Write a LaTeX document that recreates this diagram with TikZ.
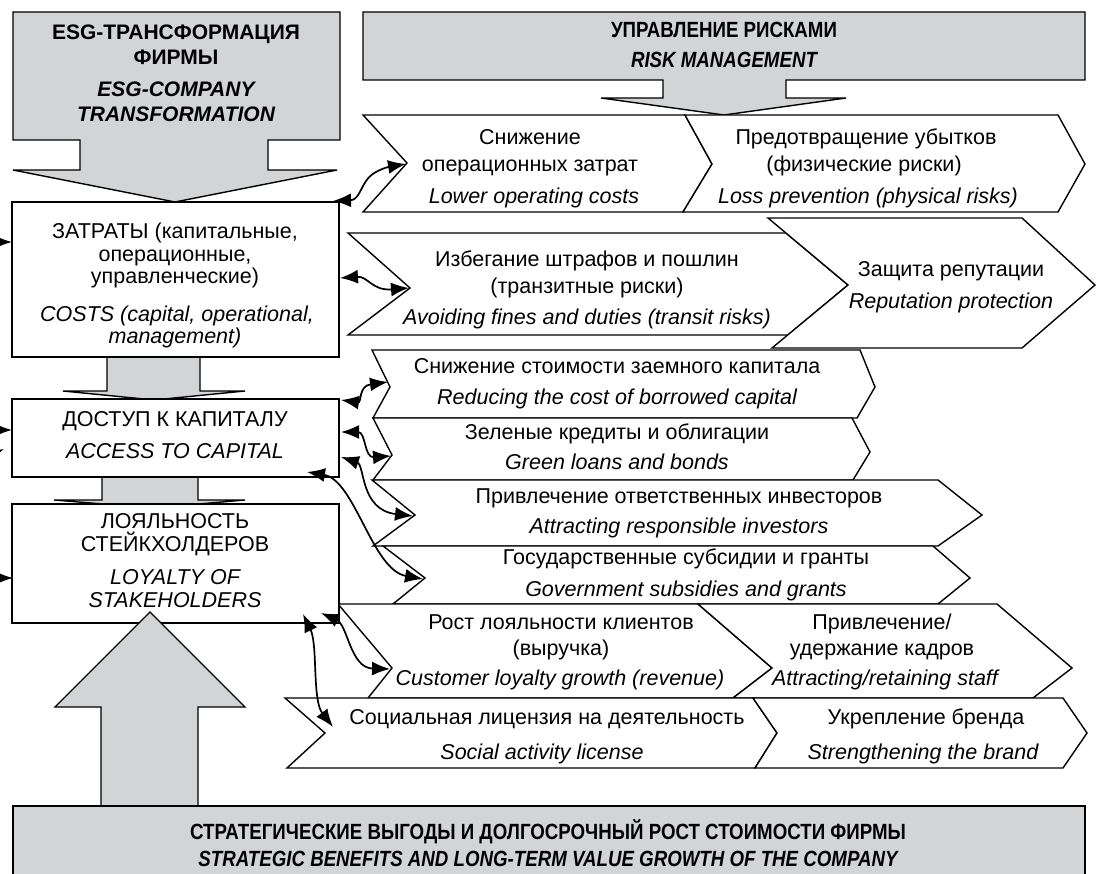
\documentclass[tikz,border=0pt]{standalone}
\usepackage{fontspec}
\setmainfont{Liberation Sans}
\newfontfamily\narrowfont[FakeStretch=0.85]{Liberation Sans}
\usetikzlibrary{arrows.meta}
\definecolor{gfill}{RGB}{211,212,214}
\newcommand\mytxt[4][lbl]{\node[#1] (#2) at (#3) {#4};}
\begin{document}
\begin{tikzpicture}[x=1pt,y=-1pt,
  gshape/.style={fill=gfill, draw=black, line width=1.4pt, line join=miter},
  chev/.style={fill=white, draw=black, line width=1.4pt, line join=miter},
  box/.style={draw=black, fill=white, line width=1.4pt, inner sep=0pt, outer sep=0pt, anchor=north west},
  dbl/.style={{Latex[length=18pt,width=14pt]}-{Latex[length=18pt,width=14pt]}, line width=1.7pt},
  sgl/.style={-{Latex[length=18pt,width=14pt]}, line width=1.7pt},
  lbl/.style={anchor=base, inner sep=0pt, font=\fontsize{21.5}{25}\selectfont},
  ilbl/.style={lbl, font=\fontsize{21.5}{25}\selectfont\itshape},
  hb/.style={lbl, font=\fontsize{21}{25}\selectfont\bfseries},
  hbi/.style={lbl, font=\fontsize{21}{25}\selectfont\bfseries\itshape},
  nb/.style={lbl, font=\fontsize{22}{25}\selectfont\narrowfont\bfseries},
  nbi/.style={lbl, font=\fontsize{22}{25}\selectfont\narrowfont\bfseries\itshape}]
\useasboundingbox (0,0) rectangle (1096,874);
\fill[white] (0,0) rectangle (1096,874);

% top gray arrows
\draw[gshape] (13,12) -- (340,12) -- (340,140) -- (268,140) -- (268,170) -- (337,170) -- (175,202) -- (13,170) -- (80,170) -- (80,140) -- (13,140) -- cycle;
\draw[gshape] (363,12) -- (1085,12) -- (1085,80) -- (786,80) -- (786,98) -- (846,98) -- (724,115) -- (601,98) -- (663,98) -- (663,80) -- (363,80) -- cycle;

% chevrons
\draw[chev] (363,115) -- (685,115) -- (712,164) -- (683,212) -- (363,212) -- (407,163) -- cycle;
\draw[chev] (685,115) -- (1058,115) -- (1085,164) -- (1058,212) -- (683,212) -- (712,164) -- cycle;
\draw[chev] (348,233) -- (786,233) -- (848,285) -- (788,335) -- (348,335) -- (410,288) -- cycle;
\draw[chev] (768,218) -- (1022,218) -- (1095,285) -- (1022,348) -- (772,348) -- (848,285) -- cycle;
\draw[chev] (372,350) -- (860,350) -- (875,387) -- (857,418) -- (373,418) -- (390,387) -- cycle;
\draw[chev] (373,418) -- (852,418) -- (870,452) -- (853,480) -- (373,480) -- (392,455) -- cycle;
\draw[chev] (372,480) -- (938,480) -- (982,515) -- (938,546) -- (373,546) -- (415,515) -- cycle;
\draw[chev] (383,546) -- (933,546) -- (970,578) -- (938,604) -- (393,604) -- (425,578) -- cycle;
\draw[chev] (338,604) -- (698,604) -- (772,668) -- (733,698) -- (368,698) -- (392,668) -- cycle;
\draw[chev] (698,604) -- (997,604) -- (1072,668) -- (1033,698) -- (733,698) -- (772,668) -- cycle;
\draw[chev] (285,698) -- (753,698) -- (777,733) -- (755,768) -- (287,768) -- (325,733) -- cycle;
\draw[chev] (753,698) -- (1063,698) -- (1087,733) -- (1063,768) -- (755,768) -- (777,733) -- cycle;

% small gray arrows between boxes
\draw[gshape] (107,356) -- (107,391) -- (63,391) -- (154,400) -- (245,391) -- (200,391) -- (200,356) -- cycle;
\draw[gshape] (102,476) -- (102,500) -- (54,500) -- (152,508) -- (245,500) -- (198,500) -- (198,476) -- cycle;

% left boxes
\node[box, minimum width=327pt, minimum height=155pt] (costs) at (12,202) {};
\node[box, minimum width=327pt, minimum height=78pt] (access) at (12,399) {};
\node[box, minimum width=327pt, minimum height=119pt] (loyal) at (12,504) {};

% big up arrow and bottom box
\draw[gshape] (101,806) -- (101,707) -- (55,707) -- (150,612) -- (245,707) -- (198,707) -- (198,806) -- cycle;
\draw[gshape] (13,806) -- (1085,806) -- (1085,884) -- (13,884) -- cycle;

% texts: headings
\mytxt[hb]{h1}{176,40}{ESG-ТРАНСФОРМАЦИЯ}
\mytxt[hb]{h2}{176,65}{ФИРМЫ}
\mytxt[hbi]{h3}{176,97}{ESG-COMPANY}
\mytxt[hbi]{h4}{176,122}{TRANSFORMATION}
\mytxt[nb]{h5}{724,38}{УПРАВЛЕНИЕ РИСКАМИ}
\mytxt[nbi]{h6}{724,68}{RISK MANAGEMENT}
\mytxt[nb]{h7}{548,839}{СТРАТЕГИЧЕСКИЕ ВЫГОДЫ И ДОЛГОСРОЧНЫЙ РОСТ СТОИМОСТИ ФИРМЫ}
\mytxt[nbi]{h8}{548,866}{STRATEGIC BENEFITS AND LONG-TERM VALUE GROWTH OF THE COMPANY}

% left box texts
\mytxt{c1}{175,239}{ЗАТРАТЫ (капитальные,}
\mytxt{c2}{175,262}{операционные,}
\mytxt{c3}{175,284}{управленческие)}
\mytxt[ilbl]{c4}{177,322}{COSTS (capital, operational,}
\mytxt[ilbl]{c5}{175,344}{management)}
\mytxt{a1}{175,427}{ДОСТУП К КАПИТАЛУ}
\mytxt[ilbl]{a2}{175,459}{ACCESS TO CAPITAL}
\mytxt{l1}{175,529}{ЛОЯЛЬНОСТЬ}
\mytxt{l2}{175,552}{СТЕЙКХОЛДЕРОВ}
\mytxt[ilbl]{l3}{175,584}{LOYALTY OF}
\mytxt[ilbl]{l4}{175,607}{STAKEHOLDERS}

% chevron texts
\mytxt{r1a}{530,145}{Снижение}
\mytxt{r1b}{530,172}{операционных затрат}
\mytxt[ilbl]{r1c}{534,204}{Lower operating costs}
\mytxt{r1d}{866,145}{Предотвращение убытков}
\mytxt{r1e}{864,172}{(физические риски)}
\mytxt[ilbl]{r1f}{868,204}{Loss prevention (physical risks)}
\mytxt{r2a}{587,267}{Избегание штрафов и пошлин}
\mytxt{r2b}{587,294}{(транзитные риски)}
\mytxt[ilbl]{r2c}{587,325}{Avoiding fines and duties (transit risks)}
\mytxt{r2d}{951,277}{Защита репутации}
\mytxt[ilbl]{r2e}{951,309}{Reputation protection}
\mytxt{r3a}{617,374}{Снижение стоимости заемного капитала}
\mytxt[ilbl]{r3b}{617,405}{Reducing the cost of borrowed capital}
\mytxt{r4a}{617,440}{Зеленые кредиты и облигации}
\mytxt[ilbl]{r4b}{617,470}{Green loans and bonds}
\mytxt{r5a}{679,504}{Привлечение ответственных инвесторов}
\mytxt[ilbl]{r5b}{679,534}{Attracting responsible investors}
\mytxt{r6a}{686,565}{Государственные субсидии и гранты}
\mytxt[ilbl]{r6b}{686,597}{Government subsidies and grants}
\mytxt{r7a}{561,629}{Рост лояльности клиентов}
\mytxt{r7b}{561,655}{(выручка)}
\mytxt[ilbl]{r7c}{560,685}{Customer loyalty growth (revenue)}
\mytxt{r7d}{882,629}{Привлечение/}
\mytxt{r7e}{882,655}{удержание кадров}
\mytxt[ilbl]{r7f}{885,685}{Attracting/retaining staff}
\mytxt{r8a}{547,724}{Социальная лицензия на деятельность}
\mytxt[ilbl]{r8b}{542,759}{Social activity license}
\mytxt{r8c}{926,724}{Укрепление бренда}
\mytxt[ilbl]{r8d}{923,759}{Strengthening the brand}

% connector end points
\coordinate (nA) at (406,164);
\coordinate (nB) at (409,288);
\coordinate (n3) at (388,382);
\coordinate (n4) at (391,456);
\coordinate (n5) at (413,516);
\coordinate (n6) at (423,579);
\coordinate (n7) at (390,669);
\coordinate (n8) at (333,727);
\coordinate (pc1) at (333,201);
\coordinate (pc2) at (340,278);
\coordinate (pa1) at (341,400);
\coordinate (pa2) at (341,432);
\coordinate (pa3) at (341,457);
\coordinate (pa4) at (307,472);
\coordinate (pl1) at (321,613);
\coordinate (pl2) at (303,614);
\coordinate (e1) at (-25,242);
\coordinate (e2) at (-25,430);
\coordinate (e3) at (-25,462);
\coordinate (e4) at (-25,578);
\coordinate (f1) at (12,242);
\coordinate (f2) at (12,430);
\coordinate (f3) at (4,449);
\coordinate (f4) at (13,578);

% connectors
\draw[dbl] (pc1) .. controls (358,200) and (360,190) .. (366,181) .. controls (372,171) and (388,167) .. (nA);
\draw[dbl] (pc2) .. controls (368,276) and (372,291) .. (nB);
\draw[dbl] (pa1) .. controls (362,403) and (358,386) .. (n3);
\draw[dbl] (pa2) .. controls (366,432) and (364,458) .. (n4);
\draw[dbl] (pa3) .. controls (365,465) and (360,510) .. (n5);
\draw[dbl] (pa4) .. controls (355,480) and (372,570) .. (n6);
\draw[dbl] (pl1) .. controls (348,625) and (350,668) .. (n7);
\draw[dbl] (pl2) .. controls (318,645) and (312,700) .. (n8);
\draw[sgl] (e1) -- (f1);
\draw[sgl] (e2) -- (f2);
\draw[sgl] (e3) -- (f3);
\draw[sgl] (e4) -- (f4);
\end{tikzpicture}
\end{document}
